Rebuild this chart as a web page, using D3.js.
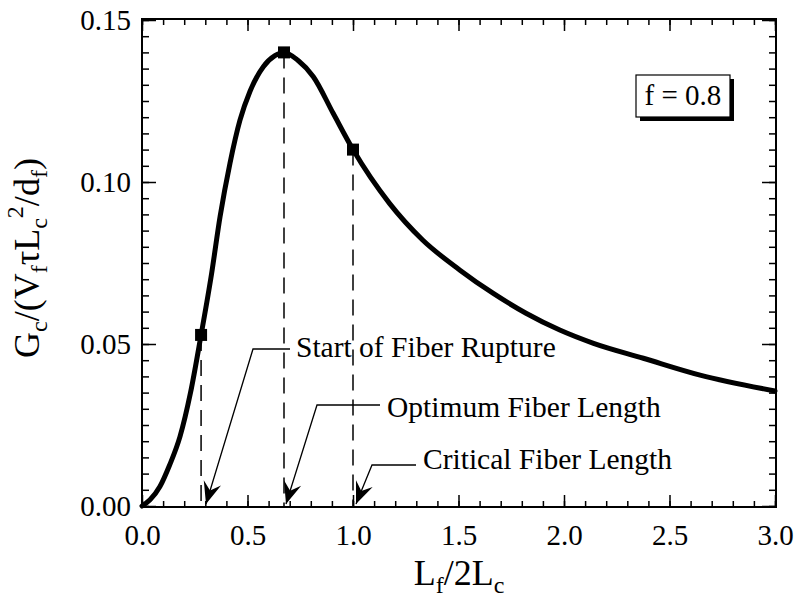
<!DOCTYPE html>
<html>
<head>
<meta charset="utf-8">
<script src="https://cdn.jsdelivr.net/npm/d3@7"></script>
<style>
  html, body { margin: 0; padding: 0; background: #fff; }
  svg { display: block; }
  text { font-family: "Liberation Serif", "Times New Roman", Times, serif; fill: #000; }
</style>
</head>
<body>
<svg id="chart" width="798" height="610"></svg>
<script>
// Normalised fracture toughness vs normalised fiber length
const lengthRatio = [0, 0.038, 0.085, 0.13, 0.18, 0.23, 0.28, 0.33, 0.37, 0.417, 0.464, 0.512, 0.575, 0.63, 0.673,
  0.74, 0.812, 0.906, 1.0, 1.173, 1.33, 1.507, 1.665, 1.82, 1.98, 2.14, 2.376, 2.645, 3.0];
const toughness = [0, 0.0019, 0.006, 0.0125, 0.0214, 0.035, 0.0528, 0.0718, 0.0893, 0.1058, 0.119, 0.128, 0.1356, 0.139, 0.140,
  0.1375, 0.1325, 0.1212, 0.110, 0.0934, 0.0821, 0.0728, 0.0656, 0.0595, 0.0543, 0.0502, 0.0456, 0.0404, 0.0355];

// Marked points: start of rupture, optimum, critical length
const markerX = [0.28, 0.673, 1.0];
const markerY = [0.0528, 0.140, 0.110];
const markerNames = ["Start of Fiber Rupture", "Optimum Fiber Length", "Critical Fiber Length"];

const xTicks = [0, 0.5, 1.0, 1.5, 2.0, 2.5, 3.0];
const xTickLabels = ["0.0", "0.5", "1.0", "1.5", "2.0", "2.5", "3.0"];
const yTicks = [0, 0.05, 0.10, 0.15];
const yTickLabels = ["0.00", "0.05", "0.10", "0.15"];
const legendLabel = "f = 0.8";

const svg = d3.select("#chart");
const pLeft = 142, pRight = 776, pTop = 19, pBottom = 507;

const x = d3.scaleLinear().domain([0, 3]).range([pLeft, pRight - 1]);
const y = d3.scaleLinear().domain([0, 0.15]).range([pBottom - 1, pTop + 1]);

const FONT = 29;

// Minor ticks
const xMinor = d3.range(0, 3.0001, 0.1);
const yMinor = d3.range(0, 0.15001, 0.005);

function styleAxis(g) {
  g.select(".domain").remove();
  g.selectAll(".tick line").attr("stroke", "#000").attr("stroke-width", 1.5);
  g.selectAll("text").style("font-size", FONT + "px").attr("fill", "#000")
    .style("font-family", '"Liberation Serif", "Times New Roman", serif');
}

// bottom
svg.append("g").attr("transform", `translate(0,${pBottom})`)
  .call(d3.axisBottom(x).tickValues(xMinor).tickSize(-6).tickFormat(""))
  .call(styleAxis);
svg.append("g").attr("transform", `translate(0,${pBottom})`)
  .call(d3.axisBottom(x).tickValues(xTicks).tickSize(-12).tickPadding(17)
    .tickFormat((d, i) => xTickLabels[i]))
  .call(styleAxis);
// top
svg.append("g").attr("transform", `translate(0,${pTop})`)
  .call(d3.axisTop(x).tickValues(xMinor).tickSize(-6).tickFormat(""))
  .call(styleAxis);
svg.append("g").attr("transform", `translate(0,${pTop})`)
  .call(d3.axisTop(x).tickValues(xTicks).tickSize(-12).tickFormat(""))
  .call(styleAxis);
// left
svg.append("g").attr("transform", `translate(${pLeft},0)`)
  .call(d3.axisLeft(y).tickValues(yMinor).tickSize(-7).tickFormat(""))
  .call(styleAxis);
svg.append("g").attr("transform", `translate(${pLeft},0)`)
  .call(d3.axisLeft(y).tickValues(yTicks).tickSize(-14).tickPadding(11)
    .tickFormat((d, i) => yTickLabels[i]))
  .call(styleAxis);
// right
svg.append("g").attr("transform", `translate(${pRight},0)`)
  .call(d3.axisRight(y).tickValues(yMinor).tickSize(-7).tickFormat(""))
  .call(styleAxis);
svg.append("g").attr("transform", `translate(${pRight},0)`)
  .call(d3.axisRight(y).tickValues(yTicks).tickSize(-14).tickFormat(""))
  .call(styleAxis);

// frame
svg.append("rect")
  .attr("x", pLeft).attr("y", pTop)
  .attr("width", pRight - pLeft).attr("height", pBottom - pTop)
  .attr("fill", "none").attr("stroke", "#000").attr("stroke-width", 2);

// dashed drop lines
svg.append("g").selectAll("line")
  .data(markerX)
  .join("line")
  .attr("x1", d => x(d)).attr("x2", d => x(d))
  .attr("y1", (d, i) => y(markerY[i])).attr("y2", y(0))
  .attr("stroke", "#000").attr("stroke-width", 1.5)
  .attr("stroke-dasharray", "16,9");

// curve
const pts = lengthRatio.map((d, i) => [d, toughness[i]]);
svg.append("path")
  .datum(pts)
  .attr("fill", "none").attr("stroke", "#000").attr("stroke-width", 5)
  .attr("stroke-linejoin", "round").attr("stroke-linecap", "round")
  .attr("d", d3.line().x(d => x(d[0])).y(d => y(d[1])).curve(d3.curveMonotoneX));

// square markers
svg.append("g").selectAll("rect")
  .data(markerX)
  .join("rect")
  .attr("x", d => x(d) - 6).attr("y", (d, i) => y(markerY[i]) - 6)
  .attr("width", 12).attr("height", 12).attr("fill", "#000");

// annotation callouts: text, horizontal leader, slanted arrow to the axis
const callouts = [
  { tx: 296, ty: 357, hy: 349, hx0: 290, hx1: 253, tipDx: 206 },
  { tx: 387, ty: 417, hy: 405, hx0: 380, hx1: 317, tipDx: 286 },
  { tx: 423, ty: 469, hy: 465, hx0: 416, hx1: 372, tipDx: 356 }
];
const tipY = pBottom - 3;
const ann = svg.append("g");
callouts.forEach((c, i) => {
  ann.append("text").attr("x", c.tx).attr("y", c.ty)
    .style("font-size", "29.5px").text(markerNames[i]);
  ann.append("polyline")
    .attr("points", `${c.hx0},${c.hy} ${c.hx1},${c.hy} ${c.tipDx},${tipY}`)
    .attr("fill", "none").attr("stroke", "#000").attr("stroke-width", 1.3);
  const ang = Math.atan2(tipY - c.hy, c.tipDx - c.hx1) * 180 / Math.PI;
  ann.append("path")
    .attr("d", "M0,0 L-22,-9 L-14,0 L-22,9 Z")
    .attr("fill", "#000")
    .attr("transform", `translate(${c.tipDx},${tipY}) rotate(${ang})`);
});

// legend box with drop shadow
const bx = 636, by = 75, bw = 94, bh = 42;
svg.append("rect").attr("x", bx + 4).attr("y", by + 4).attr("width", bw).attr("height", bh).attr("fill", "#000");
svg.append("rect").attr("x", bx).attr("y", by).attr("width", bw).attr("height", bh)
  .attr("fill", "#fff").attr("stroke", "#000").attr("stroke-width", 1.2);
svg.append("text").attr("x", bx + bw / 2).attr("y", by + 30)
  .attr("text-anchor", "middle").style("font-size", FONT + "px").text(legendLabel);

// axis titles
const xt = svg.append("text").attr("x", 459).attr("y", 585)
  .attr("text-anchor", "middle").style("font-size", "36px");
xt.append("tspan").text("L");
xt.append("tspan").attr("dy", 8).style("font-size", "24px").text("f");
xt.append("tspan").attr("dy", -8).text("/2L");
xt.append("tspan").attr("dy", 8).style("font-size", "24px").text("c");

const yt = svg.append("text")
  .attr("transform", "translate(39,258) rotate(-90)")
  .attr("text-anchor", "middle").style("font-size", "36px");
yt.append("tspan").text("G");
yt.append("tspan").attr("dy", 8).style("font-size", "24px").text("c");
yt.append("tspan").attr("dy", -8).text("/(V");
yt.append("tspan").attr("dy", 8).style("font-size", "24px").text("f");
yt.append("tspan").attr("dy", -8).text("τL");
yt.append("tspan").attr("dy", 8).style("font-size", "24px").text("c");
yt.append("tspan").attr("dy", -24).style("font-size", "24px").text("2");
yt.append("tspan").attr("dy", 16).text("/d");
yt.append("tspan").attr("dy", 8).style("font-size", "24px").text("f");
yt.append("tspan").attr("dy", -8).text(")");
</script>
</body>
</html>
